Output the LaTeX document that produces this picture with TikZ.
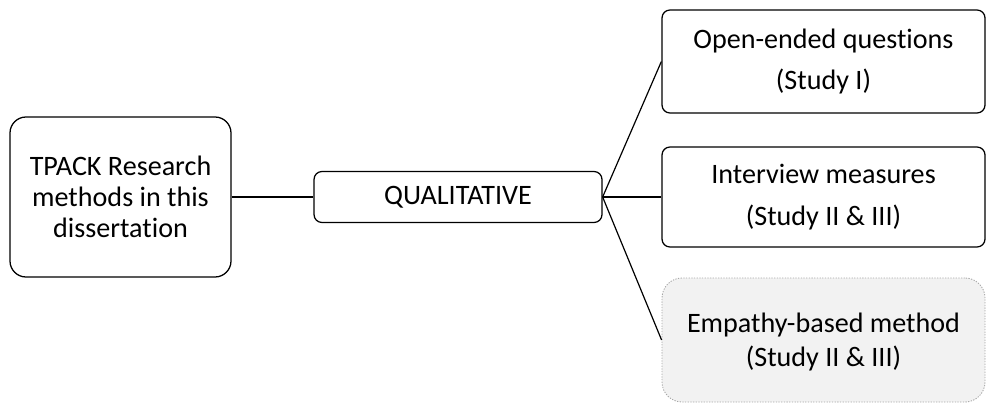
\documentclass[tikz, border = 0pt]{standalone}
\usepackage{fontspec}
\setmainfont{Carlito}[Ligatures = NoCommon]
\usepackage{tikz}

\begin{document}
\begin{tikzpicture}[
        box/.style = {draw, line width = 0.9pt, rounded corners = 0.2cm, inner sep = 0pt, align = center, font = \fontsize{20}{24}\selectfont},
        study/.style = {box, minimum width = 8.075cm, font = \fontsize{20}{29.5}\selectfont},
        link/.style = {line width = 0.85pt}
    ]
        \useasboundingbox (0, 0) rectangle (24.65, 10.125);
        \node [box, rounded corners = 0.4cm, minimum width = 5.525cm, minimum height = 4cm, font = \fontsize{20}{22}\selectfont] (tpack) at (3.0125, 5.2) {TPACK Research\\methods in this\\dissertation};
        \node [box, minimum width = 7.2cm, minimum height = 1.275cm] (qual) at (11.45, 5.2) {QUALITATIVE};
        \node [study, minimum height = 2.575cm] (open) at (20.5875, 8.5875) {Open-ended questions\\(Study I)};
        \node [study, minimum height = 2.5cm] (interview) at (20.5875, 5.2) {Interview measures\\(Study II \& III)};
        \node [study, minimum height = 3.1cm, rounded corners = 0.5cm, draw = gray!70, fill = gray!10, densely dotted, line width = 0.6pt, font = \fontsize{20}{24.5}\selectfont, text depth = -0.1cm] (empathy) at (20.5875, 1.625) {Empathy-based method\\(Study II \& III)};
        \draw [link] (tpack) -- (qual);
        \draw [link] (qual.east) -- (open.west);
        \draw [link] (qual.east) -- (interview.west);
        \draw [link] (qual.east) -- (empathy.west);
    \end{tikzpicture}
\end{document}
